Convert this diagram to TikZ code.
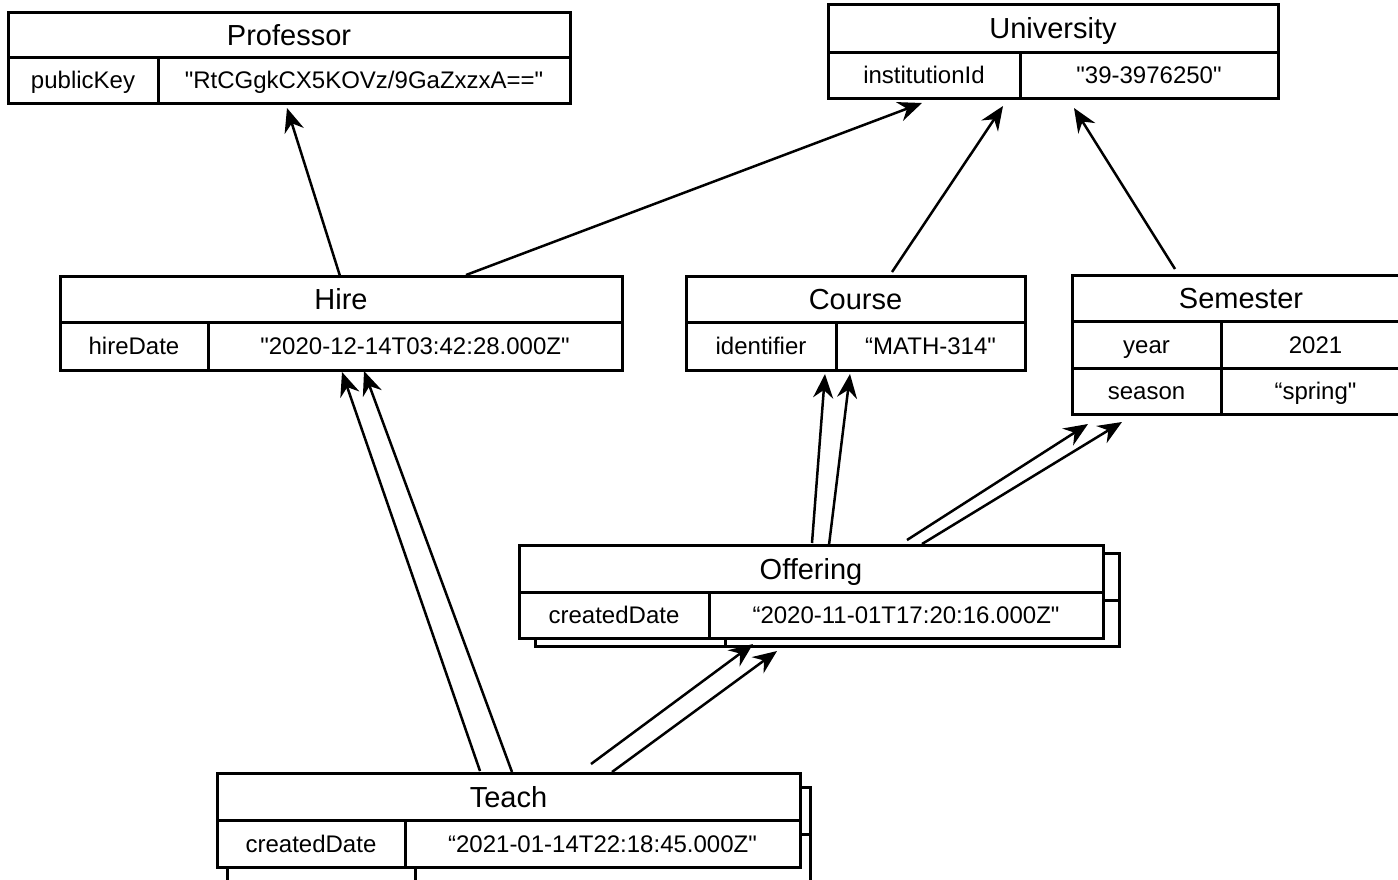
\documentclass[tikz,border=0pt]{standalone}
\usepackage{fontspec}
\setmainfont{Liberation Sans}[Ligatures=TeXOff]
\usetikzlibrary{arrows.meta}
\begin{document}
\begin{tikzpicture}[x=1pt,y=-1pt,
  cell/.style={draw, line width=3pt, fill=white, inner sep=0pt, outer sep=0pt,
    anchor=north west, text height=17pt, text depth=0pt,
    font=\fontsize{24}{28}\selectfont},
  titlecell/.style={cell, text height=21pt, font=\fontsize{29}{34}\selectfont},
  link/.style={line width=2.5pt, -{Stealth[length=24pt,width=20pt,inset=8pt]}}]
\useasboundingbox (0,0) rectangle (1398,879);
\clip (0,0) rectangle (1398,879);

% Professor
\node[titlecell, minimum width=562pt, minimum height=45pt] (prof) at (8,12) {Professor};
\node[cell, minimum width=150pt, minimum height=46pt] (prof-k) at (prof.south west) {publicKey};
\node[cell, minimum width=412pt, minimum height=46pt] (prof-v) at (prof-k.north east) {"RtCGgkCX5KOVz/9GaZxzxA=="};

% University
\node[titlecell, minimum width=450pt, minimum height=48pt] (univ) at (828,4) {University};
\node[cell, minimum width=192pt, minimum height=46pt] (univ-k) at (univ.south west) {institutionId};
\node[cell, minimum width=258pt, minimum height=46pt] (univ-v) at (univ-k.north east) {"39-3976250"};

% Hire
\node[titlecell, minimum width=562pt, minimum height=46pt] (hire) at (60,276) {Hire};
\node[cell, minimum width=148pt, minimum height=48pt] (hire-k) at (hire.south west) {hireDate};
\node[cell, minimum width=414pt, minimum height=48pt] (hire-v) at (hire-k.north east) {"2020-12-14T03:42:28.000Z"};

% Course
\node[titlecell, minimum width=339pt, minimum height=46pt] (course) at (686,276) {Course};
\node[cell, minimum width=150pt, minimum height=48pt] (course-k) at (course.south west) {identifier};
\node[cell, minimum width=189pt, minimum height=48pt] (course-v) at (course-k.north east) {“MATH-314"};

% Semester
\node[titlecell, minimum width=338pt, minimum height=46pt] (sem) at (1072,275) {Semester};
\node[cell, minimum width=149pt, minimum height=47pt] (sem-k1) at (sem.south west) {year};
\node[cell, minimum width=189pt, minimum height=47pt] (sem-v1) at (sem-k1.north east) {2021};
\node[cell, minimum width=149pt, minimum height=46pt] (sem-k2) at (sem-k1.south west) {season};
\node[cell, minimum width=189pt, minimum height=46pt] (sem-v2) at (sem-k2.north east) {“spring"};

% Offering (with a second record stacked behind)
\node[titlecell, minimum width=584pt, minimum height=47pt] (offerB) at (535,553) {};
\node[cell, minimum width=190pt, minimum height=46pt] (offerB-k) at (offerB.south west) {};
\node[cell, minimum width=394pt, minimum height=46pt] (offerB-v) at (offerB-k.north east) {};
\node[titlecell, minimum width=584pt, minimum height=47pt] (offer) at (519,545) {Offering};
\node[cell, minimum width=190pt, minimum height=46pt] (offer-k) at (offer.south west) {createdDate};
\node[cell, minimum width=394pt, minimum height=46pt] (offer-v) at (offer-k.north east) {“2020-11-01T17:20:16.000Z"};

% Teach (with a second record stacked behind)
\node[titlecell, minimum width=583pt, minimum height=47pt] (teachB) at (227,787) {};
\node[cell, minimum width=188pt, minimum height=47pt] (teachB-k) at (teachB.south west) {};
\node[cell, minimum width=395pt, minimum height=47pt] (teachB-v) at (teachB-k.north east) {};
\node[titlecell, minimum width=583pt, minimum height=47pt] (teach) at (217,773) {Teach};
\node[cell, minimum width=188pt, minimum height=47pt] (teach-k) at (teach.south west) {createdDate};
\node[cell, minimum width=395pt, minimum height=47pt] (teach-v) at (teach-k.north east) {“2021-01-14T22:18:45.000Z"};

% references
\draw[link] ([shift={(280,0)}]hire.north west) -- ([shift={(279,5)}]prof-k.south west);
\draw[link] ([shift={(406,-1)}]hire.north west) -- ([shift={(94,5)}]univ-k.south west);
\draw[link] ([shift={(206,-4)}]course.north west) -- ([shift={(175,8)}]univ-k.south west);
\draw[link] ([shift={(103,-6)}]sem.north west) -- ([shift={(246,10)}]univ-k.south west);

\draw[link] ([shift={(263,-2)}]teach.north west) -- ([shift={(282,2)}]hire-k.south west);
\draw[link] ([shift={(295,-1)}]teach.north west) -- ([shift={(304,1)}]hire-k.south west);

\draw[link] ([shift={(293,-2)}]offer.north west) -- ([shift={(139,4)}]course-k.south west);
\draw[link] ([shift={(310,0)}]offer.north west) -- ([shift={(164,4)}]course-k.south west);

\draw[link] ([shift={(388,-5)}]offer.north west) -- ([shift={(16,10)}]sem-k2.south west);
\draw[link] ([shift={(403,-1)}]offer.north west) -- ([shift={(50,8)}]sem-k2.south west);

\draw[link] ([shift={(374,-9)}]teach.north west) -- ([shift={(234,6)}]offer-k.south west);
\draw[link] ([shift={(395,-1)}]teach.north west) -- ([shift={(258,13)}]offer-k.south west);
\end{tikzpicture}
\end{document}
